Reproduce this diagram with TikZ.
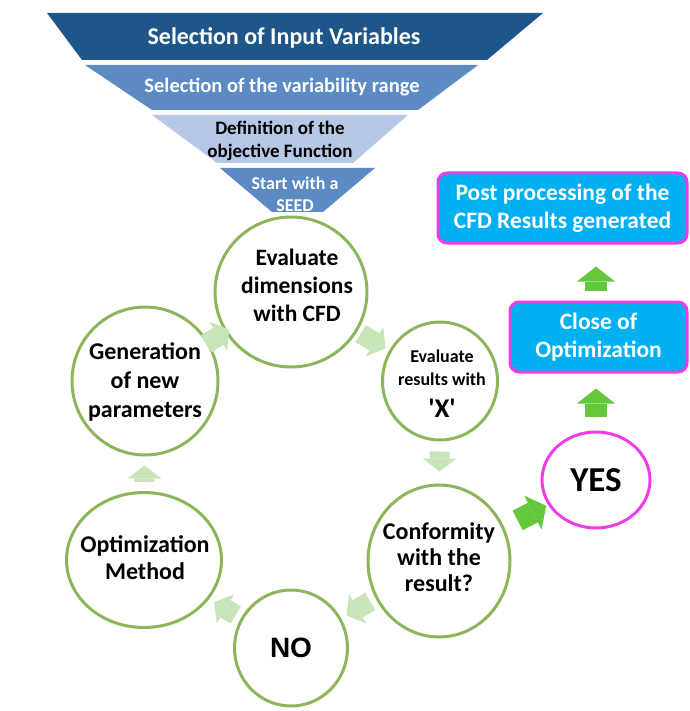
\documentclass[tikz,border=0pt]{standalone}
\usepackage{fontspec}
\setmainfont{Carlito}[Ligatures=TeXOff]
\newfontfamily\arialfont{Liberation Sans}
\usepackage{tikz}
\usetikzlibrary{shapes.geometric, arrows.meta, positioning, calc}

\definecolor{funnelone}{RGB}{31,86,137}
\definecolor{funneltwo}{RGB}{92,139,196}
\definecolor{funnelthree}{RGB}{182,200,229}
\definecolor{funnelfour}{RGB}{91,138,197}
\definecolor{ringgreen}{RGB}{141,182,92}
\definecolor{boxblue}{RGB}{0,176,240}
\definecolor{pinkline}{RGB}{238,60,230}
\definecolor{brightgreen}{RGB}{100,200,60}
\definecolor{faintgreen}{RGB}{200,228,185}

\begin{document}
\begin{tikzpicture}[x=1pt, y=-1pt,
  layertext/.style={align=center, text=white},
  cyclenode/.style={draw=ringgreen, ellipse, line width=3pt, fill=white, inner sep=0pt},
  circtext/.style={align=center, font=\fontsize{24}{29}\selectfont\bfseries},
  resultbox/.style={draw=pinkline, rectangle, rounded corners=9pt, line width=3pt, fill=boxblue, text=white, align=center, inner sep=0pt, minimum height=70pt, font=\fontsize{23.5}{28}\selectfont\bfseries},
  softarrow/.style={draw=faintgreen, line width=20pt, -{Triangle[width=34pt, length=13pt, line width=0pt]}},
  solidarrow/.style={draw=brightgreen, line width=22pt, -{Triangle[width=38pt, length=15pt, line width=0pt]}}
]
\useasboundingbox (0,0) rectangle (689,711);

% Funnel layers
\fill[funnelone] (47,13) -- (543,13) -- (487,60) -- (82,60) -- cycle;
\fill[funneltwo] (85,65) -- (478,65) -- (418,110) -- (152,110) -- cycle;
\fill[funnelthree] (152,115) -- (408,115) -- (353,163) -- (217,163) -- cycle;
\fill[funnelfour] (220,168) -- (375,168) -- (323,212) -- (272,212) -- cycle;

\node[layertext, font=\fontsize{24}{28}\selectfont\bfseries] (inputs) at (284,38) {Selection of Input Variables};
\node[layertext, font=\fontsize{20.5}{24}\selectfont\bfseries] (range) at (282,87) {Selection of the variability range};
\node[layertext, text=black, font=\fontsize{19}{23}\selectfont\bfseries] (objective) at (280,141) {Definition of the\\objective Function};
\node[layertext, font=\fontsize{18}{22}\selectfont\bfseries] (seed) at (295,194) {Start with a\\SEED};

% Optimization cycle
\node[cyclenode, minimum width=152pt, minimum height=150pt] (dims) at (291,292) {};
\node[circtext, font=\fontsize{23.5}{28}\selectfont\bfseries] (dimstext) at (297,285) {Evaluate\\dimensions\\with CFD};

\node[cyclenode, minimum width=115pt, minimum height=118pt] (evalx) at (440,381) {};
\node[circtext, font=\fontsize{18}{23}\selectfont\bfseries] (evalxtext) at (442,384) {Evaluate\\results with\\[9pt]{\fontsize{27}{27}\selectfont 'X'}};

\node[cyclenode, minimum width=142pt, minimum height=152pt] (conform) at (439,561) {};
\node[circtext, font=\fontsize{24}{26}\selectfont\bfseries] (conformtext) at (439,557) {Conformity\\with the\\result?};

\node[cyclenode, minimum width=113pt, minimum height=116pt, font=\arialfont\fontsize{28}{30}\selectfont\bfseries] (no) at (291,648) {NO};

\node[cyclenode, minimum width=155pt, minimum height=135pt] (optim) at (144,560) {};
\node[circtext, font=\fontsize{24}{27}\selectfont\bfseries] (optimtext) at (145,558) {Optimization\\Method};

\node[cyclenode, minimum width=146pt, minimum height=148pt] (newparam) at (145,381) {};
\node[circtext] (newparamtext) at (145,382) {Generation\\of new\\parameters};

% Decision branch
\node[cyclenode, draw=pinkline, minimum width=108pt, minimum height=96pt, font=\fontsize{35}{36}\selectfont\bfseries] (yes) at (596,480) {YES};
\node[resultbox, minimum width=177pt] (closeopt) at (598.5,337) {Close of\\Optimization};
\node[resultbox, minimum width=249pt] (postproc) at (562.5,208) {Post processing of the\\CFD Results generated};

% Cycle arrows
\draw[softarrow, shorten <=4pt, shorten >=4pt] (dims) -- (evalx);
\draw[softarrow, shorten <=10pt, shorten >=12pt] (evalx) -- (conform);
\draw[softarrow, shorten <=6pt, shorten >=6pt] (conform) -- (no);
\draw[softarrow, shorten <=6pt, shorten >=6pt] (no) -- (optim);
\draw[softarrow, shorten <=9pt, shorten >=9pt] (optim) -- (newparam);
\draw[softarrow, shorten <=-3pt, shorten >=-5pt] (newparam) -- (dims);

% Exit arrows
\draw[solidarrow, shorten <=15pt, shorten >=2pt] (conform) -- (yes);
\draw[solidarrow, shorten <=14pt, shorten >=15pt] (yes) -- (yes |- closeopt.south);
\draw[solidarrow, shorten <=10pt, shorten >=22pt] (closeopt.north -| yes) -- (yes |- postproc.south);
\end{tikzpicture}
\end{document}
